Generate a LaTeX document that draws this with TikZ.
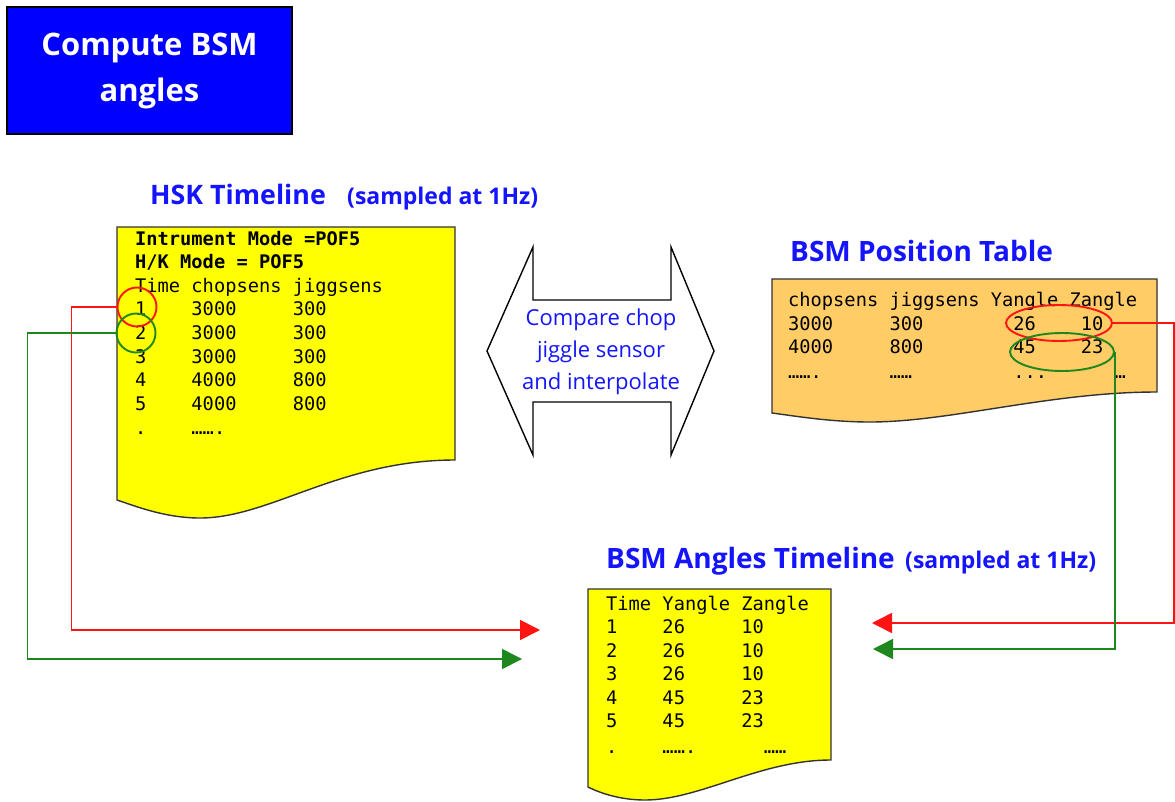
\documentclass[tikz,border=0pt]{standalone}
\usepackage{fontspec}
\setmainfont{Open Sans}
\setmonofont{DejaVu Sans Mono}
\usetikzlibrary{shapes.geometric,arrows.meta}
\definecolor{docyellow}{RGB}{255,255,0}
\definecolor{docorange}{RGB}{255,204,102}
\definecolor{ttlblue}{RGB}{20,20,255}
\definecolor{lgreen}{RGB}{30,135,30}
\definecolor{lred}{RGB}{255,20,20}
\begin{document}
\begin{tikzpicture}[x=1pt,y=-1pt,
  doc/.style={draw=black!80, line width=1.4pt},
  ttl/.style={anchor=base west, inner sep=0, text=ttlblue, font=\fontsize{28}{32}\selectfont\bfseries},
  sub/.style={anchor=base west, inner sep=0, text=ttlblue, font=\fontsize{23}{27}\selectfont\bfseries},
  mono/.style={anchor=base west, inner sep=0, font=\fontsize{18.7}{22}\selectfont\ttfamily},
  monob/.style={anchor=base west, inner sep=0, font=\fontsize{18.7}{22}\selectfont\ttfamily\bfseries},
  link/.style={line width=1.7pt, -{Triangle[length=20pt,width=20pt]}},
  mark circle/.style={draw, circle, line width=1.9pt, minimum size=39pt, inner sep=0},
  mark ellipse/.style={draw, ellipse, line width=1.9pt, inner sep=0},
]
\useasboundingbox (0,0) rectangle (1175,801);
\fill[white] (0,0) rectangle (1175,801);

% title box
\node[draw=black, line width=1.2pt, fill=blue, minimum width=285pt, minimum height=127pt,
      align=center, text=white, font=\fontsize{31}{46}\selectfont\bfseries] (head) at (149.5,70.5)
      {Compute BSM\\angles};

% HSK timeline
\node[ttl, font=\fontsize{26.8}{32}\selectfont\bfseries] (hskt) at (150,204) {HSK Timeline};
\node[sub] (hsks) at (347,204) {(sampled at 1Hz)};
\draw[doc, fill=docyellow] (117,227) -- (455,227) -- (455,460)
  .. controls (340,460) and (270,518) .. (200,518)
  .. controls (165,518) and (135,506) .. (117,500) -- cycle;
\node[monob] (h1) at (135,245) {Intrument Mode =POF5};
\node[monob] (h2) at (135,268.6) {H/K Mode = POF5};
\node[mono] (h3) at (135,292.2) {Time chopsens jiggsens};
\node[mono] (h4) at (135,315.8) {1~~~~3000~~~~~300};
\node[mono] (h5) at (135,339.4) {2~~~~3000~~~~~300};
\node[mono] (h6) at (135,363) {3~~~~3000~~~~~300};
\node[mono] (h7) at (135,386.6) {4~~~~4000~~~~~800};
\node[mono] (h8) at (135,410.2) {5~~~~4000~~~~~800};
\node[mono] (h9) at (135,434.5) {.~~~~…….};

% compare double arrow
\draw[line width=1.4pt, fill=white] (487,351) -- (533,247) -- (533,300) -- (671,300) -- (671,247)
  -- (714,351) -- (671,455) -- (671,402) -- (533,402) -- (533,455) -- cycle;
\node[align=center, text=ttlblue, font=\fontsize{22}{32}\selectfont] (cmp) at (601,352)
  {Compare chop\\jiggle sensor\\and interpolate};

% BSM position table
\node[ttl] (post) at (790,261) {BSM Position Table};
\draw[doc, fill=docorange] (772,279) -- (1157,279) -- (1157,392)
  .. controls (1050,392) and (950,422) .. (870,422)
  .. controls (830,422) and (795,416) .. (772,413) -- cycle;
\node[mono] (p1) at (788,306) {chopsens jiggsens Yangle Zangle};
\node[mono] (p2) at (788,330) {3000~~~~~300~~~~~~~~26~~~~10};
\node[mono] (p3) at (788,353.5) {4000~~~~~800~~~~~~~~45~~~~23};
\node[mono] (p4) at (788,378) {…….~~~~~~……~~~~~~~~~...~~~~~~…};

% BSM angles timeline
\node[ttl] (angt) at (606,568) {BSM Angles Timeline};
\node[sub] (angs) at (905,568) {(sampled at 1Hz)};
\draw[doc, fill=docyellow] (588,589) -- (831,589) -- (831,760)
  .. controls (760,760) and (700,800) .. (645,800)
  .. controls (620,800) and (600,793) .. (588,787) -- cycle;
\node[mono] (a1) at (606,610) {Time Yangle Zangle};
\node[mono] (a2) at (606,633.5) {1~~~~26~~~~~10};
\node[mono] (a3) at (606,657) {2~~~~26~~~~~10};
\node[mono] (a4) at (606,680.5) {3~~~~26~~~~~10};
\node[mono] (a5) at (606,704) {4~~~~45~~~~~23};
\node[mono] (a6) at (606,727.5) {5~~~~45~~~~~23};
\node[mono] (a7) at (606,753) {.~~~~…….~~~~~~……};

% markers
\node[mark circle, draw=lred] (c1) at (137,307) {};
\node[mark circle, draw=lgreen] (c2) at (136,333) {};
\node[mark ellipse, draw=lred, minimum width=106pt, minimum height=36pt] (e1) at (1059,323) {};
\node[mark ellipse, draw=lgreen, minimum width=104pt, minimum height=38pt] (e2) at (1062,352) {};

% arrow end points
\coordinate (t1) at (540,630);
\coordinate (t2) at (522,659);
\coordinate (t3) at (872,623);
\coordinate (t4) at (873,649);

% connectors
\draw[link, draw=lred] (c1.west) -- ++(-45,0) |- (t1);
\draw[link, draw=lgreen] (c2.west) -- ++(-88,0) |- (t2);
\draw[link, draw=lred] (e1.east) -- ++(61,0) |- (t3);
\draw[link, draw=lgreen] (e2.east) |- (t4);
\end{tikzpicture}
\end{document}
